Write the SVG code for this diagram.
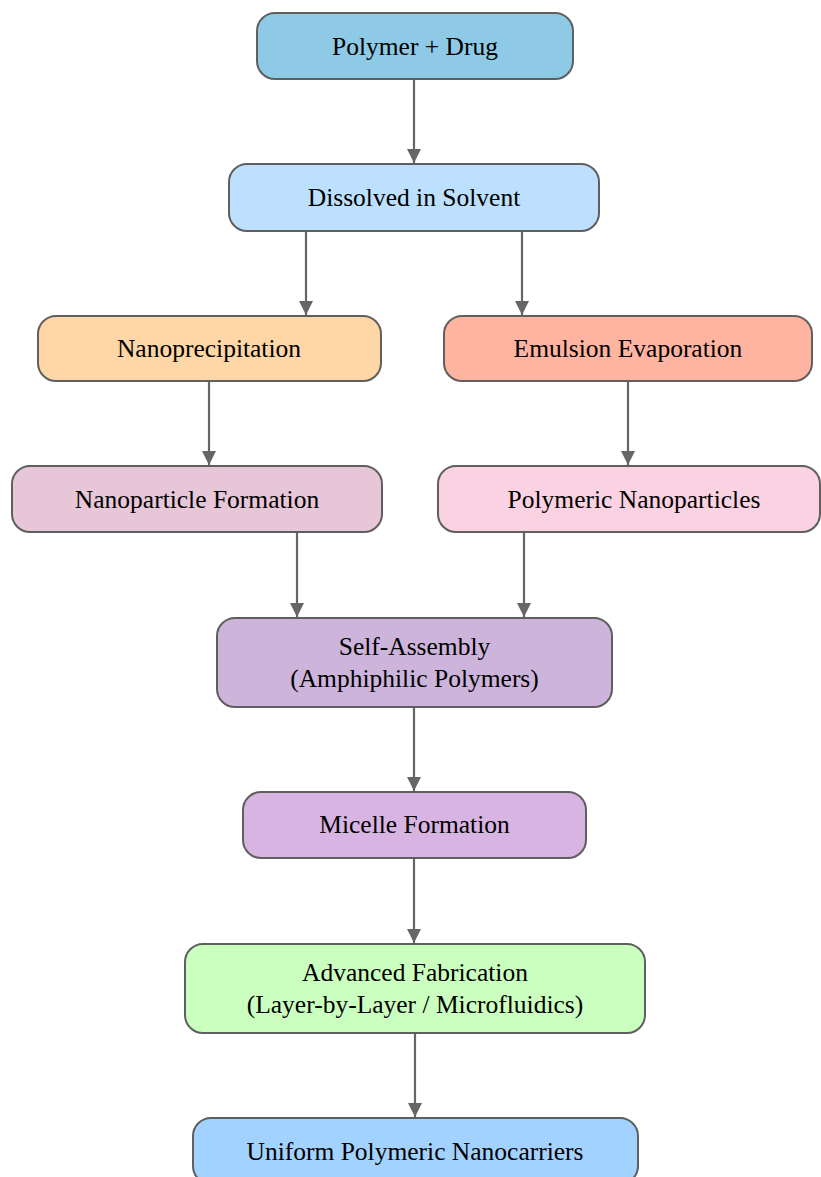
<svg xmlns="http://www.w3.org/2000/svg" width="821" height="1177" viewBox="0 0 821 1177">
<style>
.n rect{stroke:#5f5f5f;stroke-width:2}
.n text{font-size:25.5px;fill:#000;text-anchor:middle}
.c line{stroke:#666;stroke-width:2.2}
</style>
<defs>
<marker id="ah" markerUnits="userSpaceOnUse" markerWidth="14" markerHeight="16" refX="14" refY="7" orient="auto">
<path d="M0,0 L14,7 L0,14 z" fill="#666"/>
</marker>
</defs>
<rect width="821" height="1177" fill="#fff"/>
<g class="c" id="connectors">
<line x1="414" y1="80" x2="414" y2="163" marker-end="url(#ah)"/>
<line x1="306" y1="232" x2="306" y2="315" marker-end="url(#ah)"/>
<line x1="522" y1="232" x2="522" y2="315" marker-end="url(#ah)"/>
<line x1="209" y1="382" x2="209" y2="465" marker-end="url(#ah)"/>
<line x1="628" y1="382" x2="628" y2="465" marker-end="url(#ah)"/>
<line x1="297" y1="533" x2="297" y2="617" marker-end="url(#ah)"/>
<line x1="524" y1="533" x2="524" y2="617" marker-end="url(#ah)"/>
<line x1="414" y1="708" x2="414" y2="791" marker-end="url(#ah)"/>
<line x1="414" y1="859" x2="414" y2="943" marker-end="url(#ah)"/>
<line x1="415" y1="1034" x2="415" y2="1117" marker-end="url(#ah)"/>
</g>
<g class="n" id="nodes" font-family="Liberation Serif, Tinos, Times New Roman, DejaVu Serif, serif">
<g id="polymer-drug"><rect x="257" y="13" width="316" height="66" rx="18" fill="#8ecae6"/><text x="415" y="55">Polymer + Drug</text></g>
<g id="dissolved"><rect x="229" y="164" width="370" height="67" rx="18" fill="#bde0fe"/><text x="414" y="206">Dissolved in Solvent</text></g>
<g id="nanoprecipitation"><rect x="38" y="316" width="343" height="65" rx="18" fill="#ffd6a5"/><text x="209" y="357">Nanoprecipitation</text></g>
<g id="emulsion"><rect x="444" y="316" width="368" height="65" rx="18" fill="#ffb4a2"/><text x="628" y="357">Emulsion Evaporation</text></g>
<g id="nanoparticle-formation"><rect x="12" y="466" width="370" height="66" rx="18" fill="#e7c6d7"/><text x="197" y="508">Nanoparticle Formation</text></g>
<g id="polymeric-nanoparticles"><rect x="438" y="466" width="382" height="66" rx="18" fill="#fad2e1"/><text x="634" y="508">Polymeric Nanoparticles</text></g>
<g id="self-assembly"><rect x="217" y="618" width="395" height="89" rx="18" fill="#cdb4db"/><text x="414.5" y="655">Self-Assembly</text><text x="414.5" y="687">(Amphiphilic Polymers)</text></g>
<g id="micelle"><rect x="243" y="792" width="343" height="66" rx="18" fill="#d8b4e2"/><text x="414.5" y="833">Micelle Formation</text></g>
<g id="advanced"><rect x="185" y="944" width="460" height="89" rx="18" fill="#caffbf"/><text x="415" y="981">Advanced Fabrication</text><text x="415" y="1013">(Layer-by-Layer / Microfluidics)</text></g>
<g id="uniform"><rect x="193" y="1118" width="445" height="66" rx="18" fill="#a2d2ff"/><text x="415" y="1160">Uniform Polymeric Nanocarriers</text></g>
</g>
</svg>
